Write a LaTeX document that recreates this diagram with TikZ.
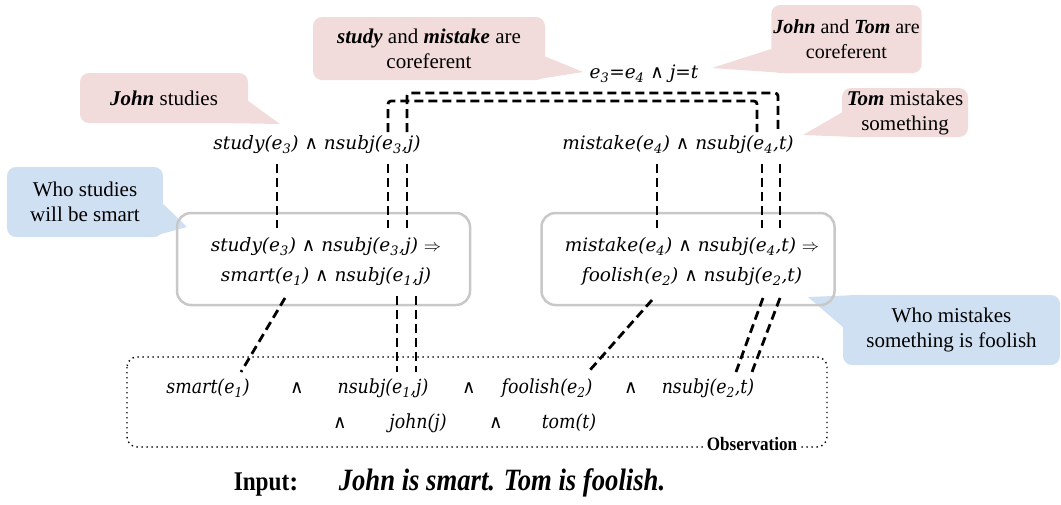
\documentclass[tikz,border=0pt]{standalone}
\usepackage{fontspec}
\setmainfont{Liberation Serif}
\newfontfamily\frmfont{DejaVu Serif}
\newfontfamily\symfont{DejaVu Sans}
\usetikzlibrary{calc}
\definecolor{pinkc}{HTML}{F2DCDB}
\definecolor{bluec}{HTML}{CFE0F2}
\definecolor{rulegray}{HTML}{C8C8C8}
\newcommand{\sbs}[1]{\textsubscript{#1}}
\newcommand{\AND}{{\symfont\upshape ∧}}
\newcommand{\cond}[1]{\scalebox{0.86}[1]{#1}}
\newcommand{\obsx}[1]{\scalebox{0.94}[1.05]{#1}}
\tikzset{
  frm/.style={font=\frmfont\fontsize{18.5}{30}\selectfont\itshape, inner sep=1pt, align=center},
  obsf/.style={font=\frmfont\fontsize{18.5}{24}\selectfont\itshape, inner sep=1pt},
  link/.style={line width=2.8pt, dash pattern=on 9pt off 5pt},
  rulebox/.style={draw=rulegray, line width=2.5pt, rounded corners=14pt,
    minimum width=293pt, minimum height=92pt},
  callout/.style={rounded corners=9pt, align=center, inner sep=2pt,
    font=\fontsize{21}{25}\selectfont},
}
\begin{document}
\begin{tikzpicture}[x=1pt, y=-1pt]
\useasboundingbox (0,0) rectangle (1061,504);

% ---- callouts ----
\node[callout, fill=pinkc, minimum width=232pt, minimum height=63pt] (cSM) at (429,48.5)
  {\textbf{\textit{study}} and \textbf{\textit{mistake}} are\\coreferent};
\coordinate (tSM) at (583,72);
\fill[pinkc] (tSM) -- ($(cSM.east)+(0,8)$) -- ($(cSM.south east)+(-14,0)$) -- cycle;

\node[callout, fill=pinkc, font=\fontsize{20}{25}\selectfont,
  minimum width=146pt, minimum height=68pt] (cJT) at (846.5,39)
  {\textbf{\textit{John}} and \textbf{\textit{Tom}} are\\coreferent};
\coordinate (tJT) at (712,68);
\fill[pinkc] (tJT) -- ($(cJT.west)+(0,10)$) -- ($(cJT.south west)+(16,0)$) -- cycle;

\node[callout, fill=pinkc, minimum width=168pt, minimum height=50pt] (cJS) at (164,98)
  {\textbf{\textit{John}} studies};
\coordinate (tJS) at (280,124);
\fill[pinkc] (tJS) -- ($(cJS.east)+(0,3)$) -- ($(cJS.south east)+(-16,0)$) -- cycle;

\node[callout, fill=pinkc, minimum width=126pt, minimum height=49pt] (cTM) at (905,112.5)
  {\textbf{\textit{Tom}} mistakes\\something};
\coordinate (tTM) at (803,135);
\fill[pinkc] (tTM) -- ($(cTM.west)+(0,0)$) -- ($(cTM.south west)+(18,0)$) -- cycle;

\node[callout, fill=bluec, minimum width=156pt, minimum height=70pt] (cWS) at (85,202)
  {Who studies\\will be smart};
\coordinate (tWS) at (187,227);
\fill[bluec] (tWS) -- ($(cWS.east)+(0,2)$) -- ($(cWS.south east)+(-14,0)$) -- cycle;

\node[callout, fill=bluec, minimum width=217pt, minimum height=70pt] (cWM) at (951.5,330)
  {Who mistakes\\something is foolish};
\coordinate (tWM) at (808,297);
\fill[bluec] (tWM) -- ($(cWM.north west)+(20,0)$) -- ($(cWM.west)+(0,-3)$) -- cycle;

% ---- coreference label ----
\node[frm] (eq) at (644,74) {e\sbs{3}=e\sbs{4} \AND{} j=t};

% ---- premises ----
\node[frm] (pS) at (317,145) {study(e\sbs{3}) \AND{} nsubj(e\sbs{3},j)};
\node[frm] (pM) at (678,145) {mistake(e\sbs{4}) \AND{} nsubj(e\sbs{4},t)};

% ---- rules ----
\node[rulebox] (rS) at (323.5,259) {};
\node[frm] (rSt) at (326,262) {study(e\sbs{3}) \AND{} nsubj(e\sbs{3},j) $\Rightarrow$\\smart(e\sbs{1}) \AND{} nsubj(e\sbs{1},j)};
\node[rulebox] (rM) at (688,259) {};
\node[frm] (rMt) at (692,262) {mistake(e\sbs{4}) \AND{} nsubj(e\sbs{4},t) $\Rightarrow$\\foolish(e\sbs{2}) \AND{} nsubj(e\sbs{2},t)};

% ---- observation ----
\draw[line width=1.4pt, dash pattern=on 1.4pt off 3.6pt, rounded corners=10pt]
  (127,357) rectangle (827,447);
\node[obsf] (o1) at (208,388) {\obsx{smart(e\sbs{1})}};
\node[obsf] (o2) at (297,388) {\AND};
\node[obsf] (o3) at (383,388) {\obsx{nsubj(e\sbs{1},j)}};
\node[obsf] (o4) at (469,388) {\AND};
\node[obsf] (o5) at (547,388) {\obsx{foolish(e\sbs{2})}};
\node[obsf] (o6) at (631,388) {\AND};
\node[obsf] (o7) at (708,388) {\obsx{nsubj(e\sbs{2},t)}};
\node[obsf] (o8) at (340,423) {\AND};
\node[obsf] (o9) at (418,423) {\obsx{john(j)}};
\node[obsf] (o10) at (496,423) {\AND};
\node[obsf] (o11) at (569,423) {\obsx{tom(t)}};
\node[fill=white, inner sep=4pt, font=\fontsize{19}{22}\selectfont\bfseries] (obs) at (752,444)
  {\scalebox{0.9}[1]{Observation}};

% ---- input sentence ----
\node[font=\fontsize{27}{30}\selectfont\bfseries, anchor=base] (inp) at (266,490) {\cond{Input}:};
\node[font=\fontsize{31}{34}\selectfont\bfseries\itshape, anchor=base] (sent) at (502,490)
  {\cond{John is smart. Tom is foolish.}};

% ---- attachment points ----
\coordinate (pSa) at (388,132); \coordinate (pSb) at (407,132);
\coordinate (pMa) at (757,132); \coordinate (pMb) at (778,132);
\coordinate (pSc) at (277,164); \coordinate (rSc) at (277,228);
\coordinate (pSd) at (388,164); \coordinate (rSd) at (388,228);
\coordinate (pSe) at (407,164); \coordinate (rSe) at (407,228);
\coordinate (pMc) at (657,164); \coordinate (rMc) at (657,228);
\coordinate (pMd) at (762,164); \coordinate (rMd) at (762,228);
\coordinate (pMe) at (780,164); \coordinate (rMe) at (780,228);
\coordinate (rSf) at (285,298); \coordinate (o1a) at (241,372);
\coordinate (rSg) at (397,296); \coordinate (o3a) at (397,372);
\coordinate (rSh) at (416,296); \coordinate (o3b) at (416,372);
\coordinate (rMf) at (652,300); \coordinate (o5a) at (590,370);
\coordinate (rMg) at (763,298); \coordinate (o7a) at (736,372);
\coordinate (rMh) at (780,298); \coordinate (o7b) at (752,372);

% ---- coreference links ----
\draw[link, rounded corners=3pt] (pSa) |- (pMa |- 0,101) -- (pMa);
\draw[link, rounded corners=3pt] (pSb) |- (pMb |- 0,93) -- (pMb);

% ---- premise to rule ----
\foreach \a/\b in {pSc/rSc, pSd/rSd, pSe/rSe, pMc/rMc, pMd/rMd, pMe/rMe}
  \draw[link] (\a) -- (\b);

% ---- rule to observation ----
\foreach \a/\b in {rSf/o1a, rSg/o3a, rSh/o3b, rMf/o5a, rMg/o7a, rMh/o7b}
  \draw[link] (\a) -- (\b);
\end{tikzpicture}
\end{document}
